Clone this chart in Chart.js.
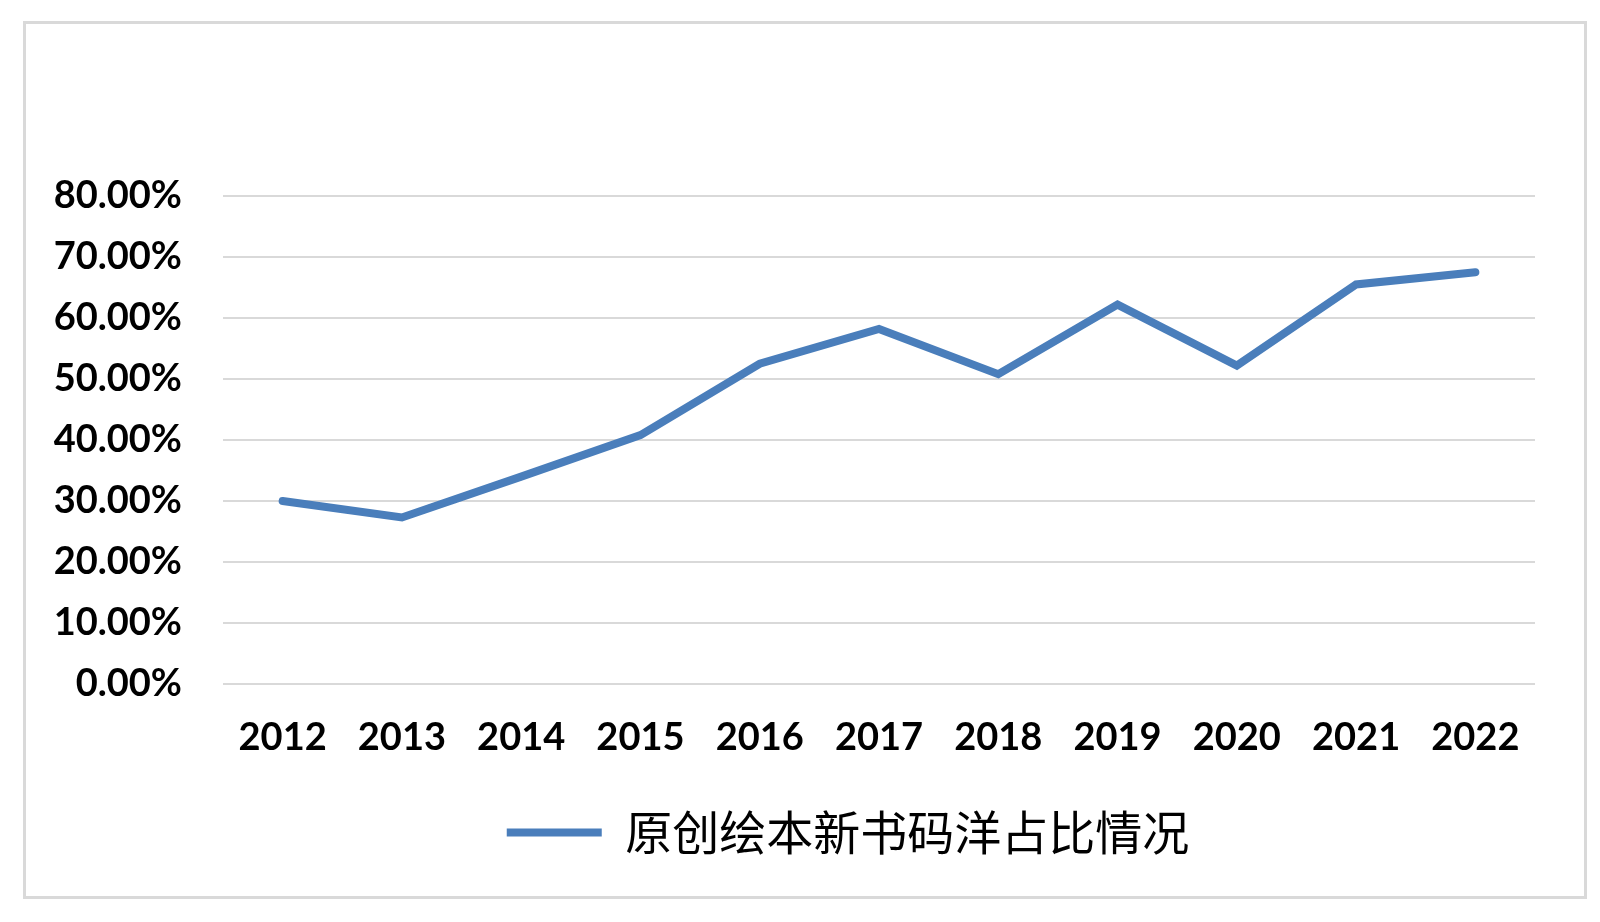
<!DOCTYPE html>
<html>
<head>
<meta charset="utf-8">
<script src="https://cdn.jsdelivr.net/npm/chart.js@4.4.0/dist/chart.umd.min.js"></script>
<style>
  html, body { margin: 0; padding: 0; background: #fff; }
  #wrap { position: relative; width: 1600px; height: 922px; }
  #frame {
    position: absolute; left: 23px; top: 21px; width: 1564px; height: 878px;
    box-sizing: border-box; border: 3px solid #d9d9d9; pointer-events: none;
  }
</style>
</head>
<body>
<div id="wrap">
  <canvas id="myChart" width="1600" height="922"></canvas>
  <div id="frame"></div>
</div>
<script>
const years = ['2012', '2013', '2014', '2015', '2016', '2017', '2018', '2019', '2020', '2021', '2022']
const shares = [30.0, 27.3, 34.0, 40.8, 52.5, 58.2, 50.8, 62.2, 52.2, 65.5, 67.5]
const seriesName = '原创绘本新书码洋占比情况'
const yMin = 0
const yMax = 80
const yStep = 10

const blue = '#4A7EBB'
const ctx = document.getElementById('myChart')

// legend sits a bit right of the plot centre in the original
const legendNudge = {
  id: 'legendNudge',
  afterLayout(chart) {
    chart.legend.left -= 31
    chart.legend.right -= 31
  }
}

new Chart(ctx, {
  type: 'line',
  data: {
    labels: years,
    datasets: [{
      label: seriesName,
      data: shares,
      borderColor: blue,
      backgroundColor: blue,
      borderWidth: 8,
      borderCapStyle: 'round',
      borderJoinStyle: 'miter',
      pointRadius: 0,
      pointHoverRadius: 0,
      tension: 0
    }]
  },
  plugins: [legendNudge],
  options: {
    responsive: false,
    animation: false,
    layout: {
      padding: { top: 196, right: 65, left: 40, bottom: 56 }
    },
    plugins: {
      legend: {
        position: 'bottom',
        fullSize: false,
        labels: {
          usePointStyle: true,
          pointStyle: 'line',
          pointStyleWidth: 95,
          color: '#000',
          font: { family: '"Noto Sans CJK SC"', size: 47 }
        }
      },
      tooltip: { enabled: false }
    },
    scales: {
      x: {
        offset: true,
        grid: { display: false, drawTicks: false },
        border: { display: false },
        ticks: {
          padding: 31,
          color: '#000',
          font: { family: 'Lato', weight: 'bold', size: 38 }
        },
        afterFit: (scale) => { scale.height = 115 }
      },
      y: {
        min: yMin,
        max: yMax,
        grid: { color: '#d9d9d9', lineWidth: 2, drawTicks: false },
        border: { display: false },
        ticks: {
          stepSize: yStep,
          padding: 41,
          color: '#000',
          font: { family: 'Lato', weight: 'bold', size: 38 },
          callback: (v) => v.toFixed(2) + '%'
        },
        afterFit: (scale) => { scale.width = 183 }
      }
    }
  }
})
</script>
</body>
</html>
